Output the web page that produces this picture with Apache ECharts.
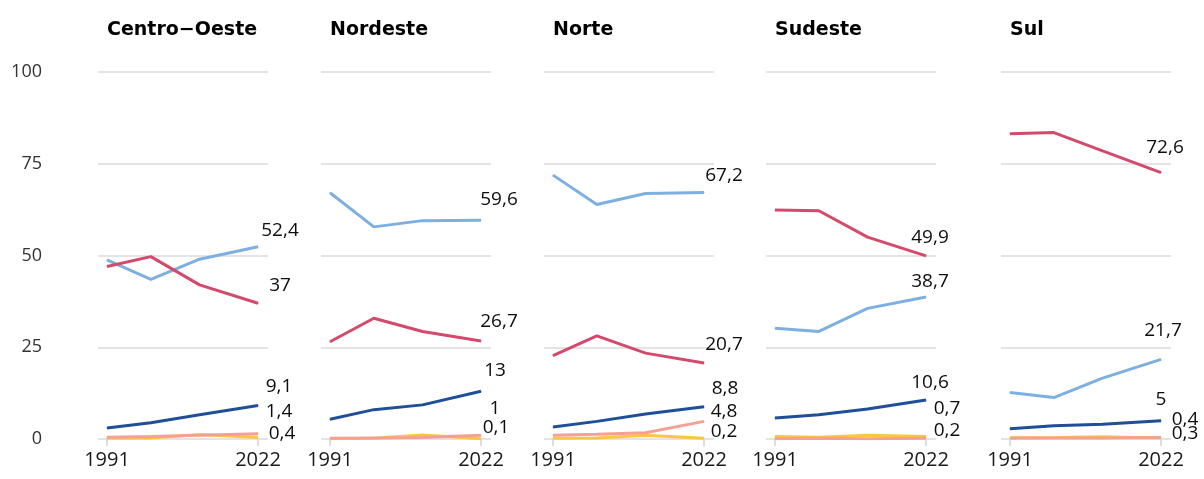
<!DOCTYPE html>
<html>
<head>
<meta charset="utf-8">
<script src="https://cdn.jsdelivr.net/npm/echarts@6/dist/echarts.min.js"></script>
<style>
  html, body { margin: 0; padding: 0; background: #fff; }
  #main { width: 1204px; height: 479px; }
</style>
</head>
<body>
<div id="main"></div>
<script>
var myChart = echarts.init(document.getElementById('main'));

// census years
var years = [1991, 2000, 2010, 2022];
var regions = ['Centro\u2212Oeste', 'Nordeste', 'Norte', 'Sudeste', 'Sul'];

// % of population, one row per region
var pardos = [
  [48.8, 43.5, 49.0, 52.4],
  [67.1, 57.8, 59.5, 59.6],
  [71.9, 63.9, 66.9, 67.2],
  [30.2, 29.3, 35.6, 38.7],
  [12.7, 11.3, 16.6, 21.7]
];
var brancos = [
  [47.0, 49.7, 42.0, 37],
  [26.5, 32.9, 29.3, 26.7],
  [22.7, 28.1, 23.4, 20.7],
  [62.4, 62.2, 55.0, 49.9],
  [83.2, 83.5, 78.5, 72.6]
];
var pretos = [
  [3.0, 4.4, 6.6, 9.1],
  [5.4, 8.0, 9.3, 13],
  [3.3, 4.8, 6.8, 8.8],
  [5.7, 6.6, 8.2, 10.6],
  [2.8, 3.6, 4.0, 5]
];
var indigenas = [
  [0.5, 0.7, 1.0, 1.4],
  [0.2, 0.3, 0.4, 1],
  [1.0, 1.3, 1.7, 4.8],
  [0.1, 0.2, 0.1, 0.2],
  [0.3, 0.3, 0.3, 0.4]
];
var amarelos = [
  [0.2, 0.3, 1.2, 0.4],
  [0.1, 0.2, 1.1, 0.1],
  [0.2, 0.3, 1.0, 0.2],
  [0.7, 0.5, 1.0, 0.7],
  [0.3, 0.4, 0.6, 0.3]
];

var xLabels = [1991, 2022];

// layout / style
var lefts = [98, 321, 544, 766, 1001];
var colors = ['#7db0e1', '#d34a6c', '#1e4f97', '#f5a095', '#fcc640'];
var groups = [pardos, brancos, pretos, indigenas, amarelos];
// end label offsets [dx, dy] per region, per group
var labelOffsets = [
  [[22, -16], [22, -18], [21, -19], [21, -22], [24, -4]],
  [[18, -21], [18, -19], [14, -21], [14, -27], [15, -11]],
  [[20, -17], [20, -18], [21, -18], [20, -10], [20, -7]],
  [[4, -15], [4, -18], [4, -18], [21, -8], [21, -28]],
  [[2, -29], [4, -25], [0, -21], [24, -18], [24, -4]]
];
var drawOrder = [0, 1, 2, 4, 3];

var titles = [], grids = [], xAxes = [], yAxes = [], series = [];

regions.forEach(function (name, r) {
  titles.push({
    text: name,
    left: lefts[r] + 4,
    top: 16,
    textStyle: { fontFamily: 'DejaVu Sans', fontWeight: 'bold', fontSize: 19, color: '#000' }
  });
  grids.push({ left: lefts[r], top: 72, width: 170, height: 367 });
  xAxes.push({
    type: 'value',
    gridIndex: r,
    min: 1989.15,
    max: 2024.05,
    splitLine: { show: false },
    axisLine: { show: false },
    axisTick: { show: true, customValues: xLabels, length: 7, lineStyle: { color: '#dddddd', width: 2 } },
    axisLabel: {
      customValues: xLabels,
      margin: 11,
      formatter: function (v) { return String(v); },
      fontFamily: 'Open Sans',
      fontSize: 20,
      color: '#1a1a1a'
    }
  });
  yAxes.push({
    type: 'value',
    gridIndex: r,
    min: 0,
    max: 100,
    interval: 25,
    axisLine: { show: false },
    axisTick: { show: false },
    splitLine: { lineStyle: { color: '#e4e4e4', width: 2 } },
    axisLabel: {
      show: r === 0,
      margin: 56,
      fontFamily: 'Open Sans',
      fontSize: 18,
      color: '#333'
    }
  });
  drawOrder.forEach(function (g) {
    var vals = groups[g][r];
    var data = vals.map(function (v, i) {
      var item = { value: [years[i], v] };
      if (i === vals.length - 1) {
        item.label = {
          show: true,
          position: 'inside',
          align: 'center',
          verticalAlign: 'middle',
          offset: labelOffsets[r][g],
          formatter: String(v).replace('.', ','),
          fontFamily: 'Open Sans',
          fontSize: 19,
          color: '#0d0d0d'
        };
      }
      return item;
    });
    series.push({
      type: 'line',
      xAxisIndex: r,
      yAxisIndex: r,
      symbol: 'circle',
      symbolSize: 1,
      silent: true,
      lineStyle: { color: colors[g], width: 3 },
      itemStyle: { color: colors[g] },
      data: data
    });
  });
});

option = {
  animation: false,
  title: titles,
  grid: grids,
  xAxis: xAxes,
  yAxis: yAxes,
  series: series
};
myChart.setOption(option);
</script>
</body>
</html>
